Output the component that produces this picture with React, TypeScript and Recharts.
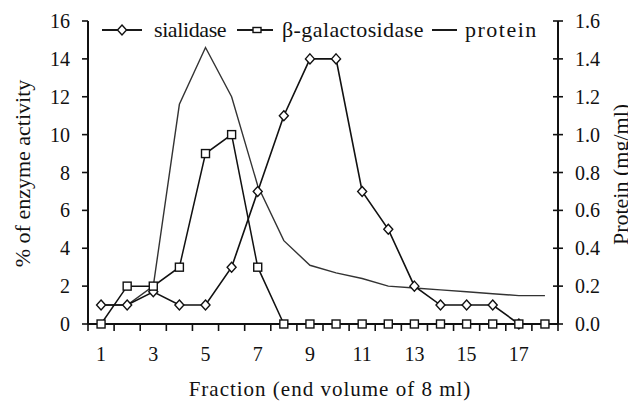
import React from "react";
import { LineChart, Line, XAxis, YAxis, Legend } from "recharts";

const fractions = [1, 2, 3, 4, 5, 6, 7, 8, 9, 10, 11, 12, 13, 14, 15, 16, 17, 18];
const sialidase = [1, 1, 1.7, 1, 1, 3, 7, 11, 14, 14, 7, 5, 2, 1, 1, 1, 0, null];
const galactosidase = [0, 2, 2, 3, 9, 10, 3, 0, 0, 0, 0, 0, 0, 0, 0, 0, 0, 0];
const protein = [0.1, 0.1, 0.2, 1.16, 1.46, 1.2, 0.73, 0.44, 0.31, 0.27, 0.24, 0.2, 0.19, 0.18, 0.17, 0.16, 0.15, 0.15];

const fractionLabels = [1, 3, 5, 7, 9, 11, 13, 15, 17];
const activityTicks = [0, 2, 4, 6, 8, 10, 12, 14, 16];
const proteinTicks = [0, 0.2, 0.4, 0.6, 0.8, 1.0, 1.2, 1.4, 1.6];

const legendOrder = ["sialidase", "galactosidase", "protein"];

const data = fractions.map((f, i) => ({
  fraction: f,
  sialidase: sialidase[i],
  galactosidase: galactosidase[i],
  protein: protein[i],
}));

// tick marks sit between fractions, labels on odd fractions
const xTicks = [...fractions.map((f) => f - 0.5), fractions[fractions.length - 1] + 0.5, ...fractionLabels].sort(
  (a, b) => a - b
);

const FONT = "Liberation Serif";
const INK = "#111";
const X_TICK_SIZE = 7;
const X_TICK_MARGIN = 16;
const R_TICK_SIZE = 5;
const R_TICK_MARGIN = 12;

const Diamond = ({ cx, cy }: { cx: number; cy: number }) => (
  <polygon
    points={`${cx},${cy - 5} ${cx + 4.5},${cy} ${cx},${cy + 5} ${cx - 4.5},${cy}`}
    fill="#fff"
    stroke={INK}
    strokeWidth={1.4}
  />
);

const Square = ({ cx, cy, w = 8, h = 8 }: { cx: number; cy: number; w?: number; h?: number }) => (
  <rect x={cx - w / 2} y={cy - h / 2} width={w} height={h} fill="#fff" stroke={INK} strokeWidth={1.4} />
);

const diamondDot = (props: any) => {
  const { cx, cy, index } = props;
  if (cx == null || cy == null) return <g key={`d${index}`} />;
  return <Diamond key={`d${index}`} cx={cx} cy={cy} />;
};

const squareDot = (props: any) => {
  const { cx, cy, index } = props;
  if (cx == null || cy == null) return <g key={`s${index}`} />;
  return <Square key={`s${index}`} cx={cx} cy={cy} />;
};

const FractionTick = (props: any) => {
  const { x, y, payload } = props;
  const v = payload.value;
  if (Number.isInteger(v)) {
    return (
      <text x={x} y={y} dy="0.71em" textAnchor="middle" style={{ fontFamily: FONT, fontSize: 20 }} fill={INK}>
        {v}
      </text>
    );
  }
  const axisY = y - X_TICK_SIZE - X_TICK_MARGIN;
  return <line x1={x} x2={x} y1={axisY} y2={axisY + X_TICK_SIZE} stroke={INK} strokeWidth={1.6} />;
};

const ProteinTick = (props: any) => {
  const { x, y, payload } = props;
  const axisX = x - R_TICK_SIZE - R_TICK_MARGIN;
  return (
    <g>
      <line x1={axisX - 5} x2={axisX + 5} y1={y} y2={y} stroke={INK} strokeWidth={1.6} />
      <text x={x} y={y} dy="0.35em" textAnchor="start" style={{ fontFamily: FONT, fontSize: 20 }} fill={INK}>
        {Number(payload.value).toFixed(1)}
      </text>
    </g>
  );
};

const legendLayout: Record<string, { icon: number; gap: number; text: number; after: number; ls: number }> = {
  sialidase: { icon: 40, gap: 12, text: 73, after: 10, ls: -0.4 },
  galactosidase: { icon: 36, gap: 9, text: 140, after: 10, ls: 0.4 },
  protein: { icon: 25, gap: 8, text: 73, after: 0, ls: 1.5 },
};

const LegendIcon = ({ kind, width }: { kind: string; width: number }) => (
  <div style={{ position: "relative", width, height: 14, flex: "none" }}>
    <div style={{ position: "absolute", left: 0, top: 6, width, height: 2, background: "#1a1a1a" }} />
    {kind !== "protein" && (
      <svg width={width} height={14} style={{ position: "absolute", left: 0, top: 0, display: "block" }}>
        {kind === "sialidase" ? <Diamond cx={width / 2} cy={7} /> : <Square cx={width - 16} cy={7} w={8} h={5} />}
      </svg>
    )}
  </div>
);

const renderLegend = (props: any) => {
  const items = [...(props.payload || [])].sort(
    (a: any, b: any) => legendOrder.indexOf(a.dataKey) - legendOrder.indexOf(b.dataKey)
  );
  return (
    <div style={{ display: "flex", alignItems: "center", height: 24, fontFamily: FONT, fontSize: 22, color: INK }}>
      {items.map((entry: any) => {
        const l = legendLayout[entry.dataKey];
        return (
          <div key={entry.dataKey} style={{ display: "flex", alignItems: "center", flex: "none", marginRight: l.after }}>
            <LegendIcon kind={entry.dataKey} width={l.icon} />
            <span
              style={{
                marginLeft: l.gap,
                width: l.text,
                flex: "none",
                whiteSpace: "nowrap",
                lineHeight: "24px",
                letterSpacing: l.ls,
              }}
            >
              {entry.value}
            </span>
          </div>
        );
      })}
    </div>
  );
};

export default function App() {
  return (
    <div style={{ fontFamily: FONT, width: 628, height: 393 }}>
      <LineChart width={628} height={393} data={data} margin={{ top: 13, right: 0, bottom: 0, left: 0 }}>
        <XAxis
          dataKey="fraction"
          type="number"
          domain={[0.5, 18.5]}
          ticks={xTicks}
          interval={0}
          allowDataOverflow
          height={77}
          tickSize={X_TICK_SIZE}
          tickMargin={X_TICK_MARGIN}
          tickLine={false}
          tick={<FractionTick />}
          axisLine={{ stroke: INK, strokeWidth: 2 }}
          label={{
            content: (p: any) => {
              const vb = p.viewBox;
              return (
                <text
                  x={vb.x + vb.width / 2 + 7}
                  y={vb.y + 65}
                  textAnchor="middle"
                  dominantBaseline="central"
                  style={{ fontFamily: FONT, fontSize: 21, letterSpacing: 1 }}
                  fill={INK}
                >
                  Fraction (end volume of 8 ml)
                </text>
              );
            },
          }}
        />
        <YAxis
          yAxisId="left"
          width={80}
          domain={[0, 16]}
          ticks={activityTicks}
          interval={0}
          tickSize={6}
          tickMargin={12}
          tick={{ fontFamily: FONT, fontSize: 20, fill: INK }}
          tickLine={{ stroke: INK, strokeWidth: 1.6 }}
          axisLine={{ stroke: INK, strokeWidth: 2 }}
          label={{
            content: (p: any) => {
              const vb = p.viewBox;
              const cx = vb.x + 14;
              const cy = vb.y + vb.height / 2 + 1;
              return (
                <text
                  x={cx}
                  y={cy}
                  transform={`rotate(-90, ${cx}, ${cy})`}
                  textAnchor="middle"
                  dominantBaseline="central"
                  style={{ fontFamily: FONT, fontSize: 22 }}
                  fill={INK}
                >
                  % of enzyme activity
                </text>
              );
            },
          }}
        />
        <YAxis
          yAxisId="right"
          orientation="right"
          width={78}
          domain={[0, 1.6]}
          ticks={proteinTicks}
          interval={0}
          tickSize={R_TICK_SIZE}
          tickMargin={R_TICK_MARGIN}
          tickLine={false}
          tick={<ProteinTick />}
          axisLine={{ stroke: INK, strokeWidth: 2 }}
          label={{
            content: (p: any) => {
              const vb = p.viewBox;
              const cx = vb.x + 62;
              const cy = vb.y + vb.height / 2 + 2;
              return (
                <text
                  x={cx}
                  y={cy}
                  transform={`rotate(-90, ${cx}, ${cy})`}
                  textAnchor="middle"
                  dominantBaseline="central"
                  style={{ fontFamily: FONT, fontSize: 22 }}
                  fill={INK}
                >
                  Protein (mg/ml)
                </text>
              );
            },
          }}
        />
        <Legend
          layout="horizontal"
          verticalAlign="middle"
          align="center"
          content={renderLegend}
          wrapperStyle={{ top: 10, left: 94, width: "auto" }}
        />
        <Line
          yAxisId="right"
          dataKey="protein"
          name="protein"
          type="linear"
          stroke="#333"
          strokeWidth={1.4}
          dot={false}
          activeDot={false}
          isAnimationActive={false}
        />
        <Line
          yAxisId="left"
          dataKey="sialidase"
          name="sialidase"
          type="linear"
          stroke={INK}
          strokeWidth={1.6}
          dot={diamondDot}
          activeDot={false}
          isAnimationActive={false}
        />
        <Line
          yAxisId="left"
          dataKey="galactosidase"
          name="β-galactosidase"
          type="linear"
          stroke={INK}
          strokeWidth={1.5}
          dot={squareDot}
          activeDot={false}
          isAnimationActive={false}
        />
      </LineChart>
    </div>
  );
}
